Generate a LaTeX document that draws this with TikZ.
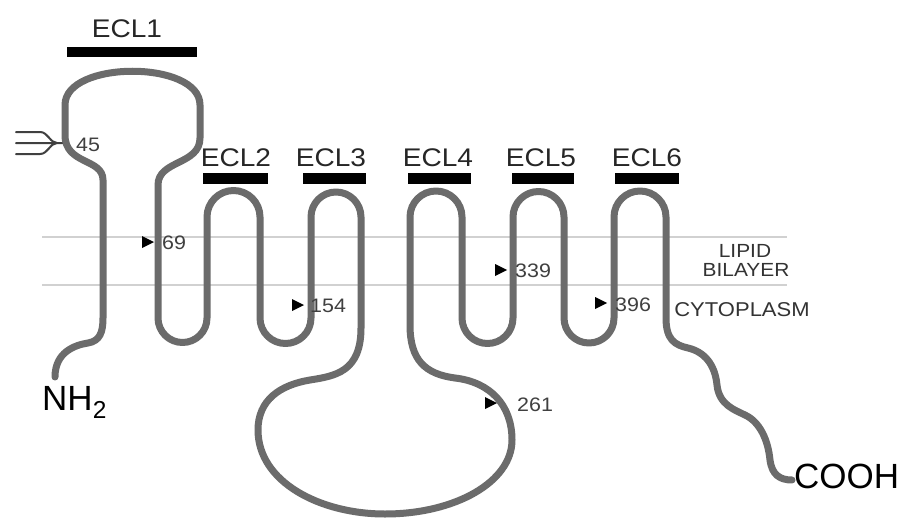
\documentclass[tikz,border=0pt]{standalone}
\usepackage{fontspec}
\setmainfont{Liberation Sans}[FakeStretch=1.1]
\newfontfamily\plainsans{Liberation Sans}
\begin{document}
\begin{tikzpicture}[x=1pt,y=-1pt,
  protein/.style={draw=black!58, line width=7pt, line cap=round, line join=round},
  ecbar/.style={fill=black, draw=none},
  ecltext/.style={anchor=base, inner sep=0pt, font=\fontsize{25.5}{25.5}\selectfont, text=black!85},
  numtext/.style={anchor=west, inner sep=0pt, font=\fontsize{19.5}{19.5}\selectfont, text=black!75},
  regtext/.style={inner sep=0pt, font=\fontsize{19}{19}\selectfont, text=black!80},
  endtext/.style={anchor=base west, inner sep=0pt, font=\plainsans\fontsize{35}{35}\selectfont},
  tri/.style={fill=black, draw=none},
  membrane/.style={draw=black!18, line width=1.5pt}]
\useasboundingbox[fill=white] (0,0) rectangle (905,519);

% membrane lines
\draw[membrane] (42,237) -- (787,237);
\draw[membrane] (42,285) -- (787,285);

% ECL bars
\fill[ecbar] (67,47) rectangle (197,57);
\fill[ecbar] (203,173) rectangle (268,184);
\fill[ecbar] (303,173) rectangle (366,184);
\fill[ecbar] (408,173) rectangle (471,184);
\fill[ecbar] (512,173) rectangle (574,184);
\fill[ecbar] (615,173) rectangle (679,184);

% ECL labels
\node[ecltext] (ecl1) at (127,38) {ECL1};
\node[ecltext] (ecl2) at (236,166) {ECL2};
\node[ecltext] (ecl3) at (331,166) {ECL3};
\node[ecltext] (ecl4) at (438,166) {ECL4};
\node[ecltext] (ecl5) at (541,166) {ECL5};
\node[ecltext] (ecl6) at (647,166) {ECL6};

% glycosylation fork
\draw[black!75, line width=2pt, line cap=round]
  (16,143) -- (68,143)
  (16,132) -- (40,132) .. controls (48,132) and (50,143) .. (57,143)
  (16,154) -- (40,154) .. controls (48,154) and (50,143) .. (57,143);

% protein chain
\draw[protein]
  (55,377) .. controls (55,352) and (75,345) .. (88,343)
  .. controls (100,341) and (103,332) .. (103,318)
  -- (103,180) .. controls (103,158) and (65,165) .. (65,135)
  -- (65,105) .. controls (65,60) and (200,60) .. (200,105)
  -- (200,138) .. controls (200,165) and (158,160) .. (158,185)
  -- (158,318) arc[start angle=180,end angle=0,radius=24.5]
  -- (207,217) arc[start angle=180,end angle=360,radius=26.5]
  -- (260,318) arc[start angle=180,end angle=0,radius=25.5]
  -- (311,217) arc[start angle=180,end angle=360,radius=25]
  -- (361,328) .. controls (361,372) and (335,376) .. (310,380)
  .. controls (280,385) and (258,400) .. (258,430)
  .. controls (258,482) and (320,514) .. (385,514)
  .. controls (455,514) and (512,482) .. (512,440)
  .. controls (512,405) and (490,382) .. (455,378)
  .. controls (425,374) and (410,360) .. (410,325)
  -- (410,217) arc[start angle=180,end angle=360,radius=26]
  -- (462,318) arc[start angle=180,end angle=0,radius=25.5]
  -- (513,217) arc[start angle=180,end angle=360,radius=25.5]
  -- (564,318) arc[start angle=180,end angle=0,radius=25]
  -- (614,217) arc[start angle=180,end angle=360,radius=26]
  -- (666,318) .. controls (666,340) and (675,345) .. (688,348)
  .. controls (705,352) and (715,365) .. (717,385)
  .. controls (719,405) and (735,410) .. (745,415)
  .. controls (760,422) and (768,440) .. (770,460)
  .. controls (772,475) and (780,480) .. (792,480);

% site markers
\fill[tri] (142,236) -- (154,242) -- (142,248) -- cycle;
\fill[tri] (292,299) -- (304,305) -- (292,311) -- cycle;
\fill[tri] (495,264) -- (507,270) -- (495,276) -- cycle;
\fill[tri] (595,297) -- (607,303) -- (595,309) -- cycle;
\fill[tri] (485,397) -- (497,403) -- (485,409) -- cycle;

\node[numtext] (n45) at (76,145) {45};
\node[numtext] (n69) at (162,243) {69};
\node[numtext] (n154) at (310,306) {154};
\node[numtext] (n339) at (515,271) {339};
\node[numtext] (n396) at (615,305) {396};
\node[numtext] (n261) at (517,405) {261};

% region labels
\node[regtext] (lipid) at (745,251) {LIPID};
\node[regtext] (bilayer) at (746,270) {BILAYER};
\node[regtext, font=\fontsize{20}{20}\selectfont] (cyto) at (742,310) {CYTOPLASM};

% termini
\node[endtext] (nh2) at (42,410) {NH\textsubscript{2}};
\node[endtext] (cooh) at (794,488) {COOH};
\end{tikzpicture}
\end{document}
